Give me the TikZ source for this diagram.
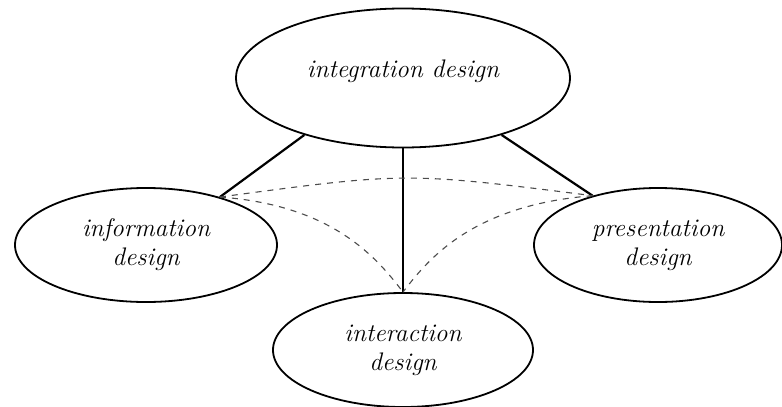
\documentclass[tikz,border=0pt]{standalone}
\usetikzlibrary{shapes.geometric}

\tikzset{
    bubble/.style = {ellipse, draw = black, line width = 0.9pt, inner sep = 0pt,
        align = center, font = \fontsize{12.7}{14.6}\selectfont\itshape},
    link/.style = {black, line width = 1.1pt},
    dashlink/.style = {gray!60!black, line width = 0.55pt, dashed}
}

\begin{document}
\begin{tikzpicture}[x = 0.5pt, y = -0.5pt]
        \useasboundingbox (0, 0) rectangle (782, 407);
        % the four design bubbles
        \node[bubble, minimum width = 167pt, minimum height = 69.5pt,
            text height = 8pt, text depth = 8.5pt] (integration) at (403, 78) {integration design};
        \node[bubble, minimum width = 131pt, minimum height = 57pt] (information) at (146, 245) {information\\design};
        \node[bubble, minimum width = 124pt, minimum height = 57pt] (presentation) at (658, 245) {presentation\\design};
        \node[bubble, minimum width = 130pt, minimum height = 57pt] (interaction) at (403, 350) {interaction\\design};
        % solid links
        \draw[link] (integration.-150) -- (information.33);
        \draw[link] (integration.-30) -- (presentation.143);
        \draw[link] (integration.south) -- (interaction.north);
        % dashed links
        \draw[dashlink] (information.33) .. controls (406, 172) .. (presentation.143);
        \draw[dashlink] (information.33) .. controls (330, 205) and (375, 255) .. (interaction.north);
        \draw[dashlink] (presentation.143) .. controls (476, 205) and (431, 255) .. (interaction.north);
    \end{tikzpicture}
\end{document}
